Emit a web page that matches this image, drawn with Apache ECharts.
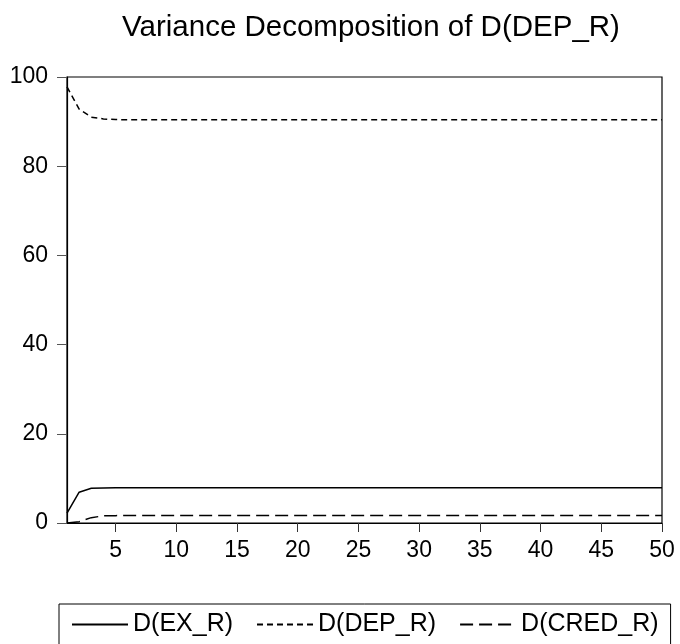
<!DOCTYPE html>
<html>
<head>
<meta charset="utf-8">
<script src="https://cdn.jsdelivr.net/npm/echarts@6/dist/echarts.min.js"></script>
<style>
  html, body { margin: 0; padding: 0; background: #fff; }
  #chart { width: 680px; height: 644px; }
</style>
</head>
<body>
<div id="chart"></div>
<script>
// Forecast horizon (periods 1..50)
const periods = [1,2,3,4,5,6,7,8,9,10,11,12,13,14,15,16,17,18,19,20,21,22,23,24,25,
  26,27,28,29,30,31,32,33,34,35,36,37,38,39,40,41,42,43,44,45,46,47,48,49,50];

// Share of forecast error variance of D(DEP_R) explained by each shock (%)
const exR = [2.2,6.9,7.8,7.85,7.9,7.9,7.9,7.9,7.9,7.9,7.9,7.9,7.9,7.9,7.9,7.9,7.9,7.9,7.9,7.9,
  7.9,7.9,7.9,7.9,7.9,7.9,7.9,7.9,7.9,7.9,7.9,7.9,7.9,7.9,7.9,7.9,7.9,7.9,7.9,7.9,
  7.9,7.9,7.9,7.9,7.9,7.9,7.9,7.9,7.9,7.9];
const depR = [97.8,92.8,91.0,90.6,90.45,90.4,90.4,90.4,90.4,90.4,90.4,90.4,90.4,90.4,90.4,90.4,90.4,90.4,90.4,90.4,
  90.4,90.4,90.4,90.4,90.4,90.4,90.4,90.4,90.4,90.4,90.4,90.4,90.4,90.4,90.4,90.4,90.4,90.4,90.4,90.4,
  90.4,90.4,90.4,90.4,90.4,90.4,90.4,90.4,90.4,90.4];
const credR = [0.0,0.3,1.2,1.6,1.65,1.7,1.7,1.7,1.7,1.7,1.7,1.7,1.7,1.7,1.7,1.7,1.7,1.7,1.7,1.7,
  1.7,1.7,1.7,1.7,1.7,1.7,1.7,1.7,1.7,1.7,1.7,1.7,1.7,1.7,1.7,1.7,1.7,1.7,1.7,1.7,
  1.7,1.7,1.7,1.7,1.7,1.7,1.7,1.7,1.7,1.7];

// Axis tick positions
const xTicks = [5,10,15,20,25,30,35,40,45,50];
const yTicks = [0,20,40,60,80,100];

const seriesNames = ['D(EX_R)', 'D(DEP_R)', 'D(CRED_R)'];
const FONT = '"Liberation Sans", Arial, sans-serif';

const pairs = (ys) => periods.map((p, i) => [p, ys[i]]);

const chart = echarts.init(document.getElementById('chart'), null, { renderer: 'canvas' });

chart.setOption({
  animation: false,
  backgroundColor: '#fff',
  title: {
    text: 'Variance Decomposition of D(DEP_R)',
    left: 366,
    textAlign: 'center',
    top: 8,
    textStyle: { fontFamily: FONT, fontSize: 29.5, fontWeight: 'normal', color: '#000' }
  },
  grid: {
    left: 67, right: 18, top: 77, bottom: 121,
    show: true, borderColor: '#000', borderWidth: 1.2, backgroundColor: 'transparent'
  },
  xAxis: {
    type: 'value',
    min: 1, max: 50,
    axisLine: { show: true, lineStyle: { color: '#000', width: 1.2 } },
    axisTick: { show: true, customValues: xTicks, length: 9, lineStyle: { color: '#333', width: 1 } },
    axisLabel: {
      customValues: xTicks, margin: 16,
      fontFamily: FONT, fontSize: 23, color: '#000'
    },
    splitLine: { show: false }
  },
  yAxis: {
    type: 'value',
    min: 0, max: 100,
    axisLine: { show: true, lineStyle: { color: '#000', width: 1.2 } },
    axisTick: { show: true, customValues: yTicks, length: 10, lineStyle: { color: '#555', width: 1 } },
    axisLabel: {
      customValues: yTicks, margin: 19,
      fontFamily: FONT, fontSize: 23, color: '#000'
    },
    splitLine: { show: false }
  },
  legend: {
    data: seriesNames,
    left: 59,
    top: 604,
    orient: 'horizontal',
    padding: [8, 12, 24, 12],
    itemGap: 23,
    itemWidth: 56,
    itemHeight: 14,
    borderColor: '#000',
    borderWidth: 1,
    backgroundColor: '#fff',
    itemStyle: { color: 'transparent', borderColor: 'transparent', borderWidth: 0 },
    textStyle: { fontFamily: FONT, fontSize: 25, color: '#000' }
  },
  series: [
    {
      name: seriesNames[0], type: 'line', data: pairs(exR),
      symbol: 'none', smooth: false,
      lineStyle: { color: '#000', width: 1.5, type: 'solid' },
      itemStyle: { color: '#000' }
    },
    {
      name: seriesNames[1], type: 'line', data: pairs(depR),
      symbol: 'none', smooth: false,
      lineStyle: { color: '#000', width: 1.5, type: [6, 4] },
      itemStyle: { color: '#000' }
    },
    {
      name: seriesNames[2], type: 'line', data: pairs(credR),
      symbol: 'none', smooth: false,
      lineStyle: { color: '#000', width: 1.5, type: [13, 6] },
      itemStyle: { color: '#000' }
    }
  ]
});
</script>
</body>
</html>
